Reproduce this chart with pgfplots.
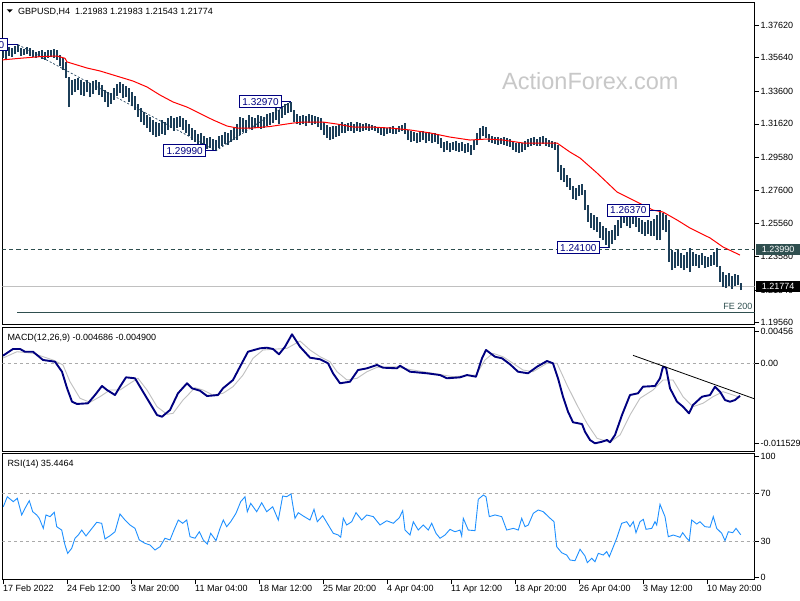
\documentclass[border=0pt]{standalone}
\usepackage{pgfplots}
\pgfplotsset{compat=1.18}
\usepackage{pgfplotstable}
\usepackage{fontspec}
\setmainfont{Liberation Sans}
\definecolor{barcol}{RGB}{28,62,88}
\definecolor{slate}{RGB}{47,79,79}
\definecolor{navyc}{RGB}{0,0,128}
\definecolor{silverc}{RGB}{192,192,192}
\definecolor{dashg}{RGB}{170,170,170}
\definecolor{rsic}{RGB}{30,144,255}
\definecolor{wm}{RGB}{200,200,200}
\newcommand{\mt}{\fontsize{9}{10.8}\selectfont}

\pgfplotstableread{
x h l
3 1.3635 1.3562
6 1.3629 1.3550
9 1.3629 1.3574
12 1.3622 1.3568
15 1.3635 1.3586
18 1.3643 1.3598
21 1.3622 1.3574
24 1.3616 1.3580
27 1.3629 1.3586
30 1.3622 1.3574
33 1.3610 1.3568
36 1.3598 1.3562
39 1.3604 1.3568
42 1.3610 1.3556
45 1.3598 1.3550
48 1.3610 1.3562
51 1.3610 1.3568
54 1.3616 1.3562
57 1.3610 1.3550
60 1.3580 1.3513
63 1.3562 1.3489
66 1.3538 1.3440
69 1.3446 1.3264
72 1.3428 1.3337
75 1.3434 1.3355
78 1.3440 1.3368
81 1.3428 1.3337
84 1.3416 1.3331
87 1.3428 1.3355
90 1.3410 1.3325
93 1.3422 1.3343
96 1.3428 1.3368
99 1.3416 1.3337
102 1.3398 1.3325
105 1.3368 1.3295
108 1.3355 1.3264
111 1.3349 1.3283
114 1.3380 1.3307
117 1.3404 1.3331
120 1.3416 1.3349
123 1.3404 1.3319
126 1.3392 1.3325
129 1.3380 1.3295
132 1.3355 1.3271
135 1.3331 1.3246
138 1.3283 1.3204
141 1.3258 1.3173
144 1.3234 1.3155
147 1.3216 1.3137
150 1.3204 1.3113
153 1.3186 1.3095
156 1.3173 1.3082
159 1.3167 1.3089
162 1.3186 1.3101
165 1.3173 1.3095
168 1.3198 1.3125
171 1.3210 1.3137
174 1.3198 1.3119
177 1.3204 1.3137
180 1.3210 1.3143
183 1.3198 1.3125
186 1.3186 1.3107
189 1.3161 1.3089
192 1.3137 1.3064
195 1.3125 1.3052
198 1.3101 1.3028
201 1.3107 1.3040
204 1.3089 1.3016
207 1.3076 1.3010
210 1.3082 1.3016
213 1.3070 1.3004
216 1.3064 1.2999
219 1.3089 1.3016
222 1.3095 1.3028
225 1.3113 1.3040
228 1.3107 1.3034
231 1.3125 1.3052
234 1.3137 1.3064
237 1.3161 1.3064
240 1.3204 1.3095
243 1.3198 1.3113
246 1.3186 1.3107
249 1.3216 1.3137
252 1.3204 1.3125
255 1.3198 1.3137
258 1.3216 1.3143
261 1.3210 1.3131
264 1.3204 1.3137
267 1.3222 1.3149
270 1.3228 1.3155
273 1.3234 1.3167
276 1.3258 1.3186
279 1.3246 1.3161
282 1.3271 1.3198
285 1.3283 1.3216
288 1.3289 1.3228
291 1.3297 1.3234
294 1.3246 1.3173
297 1.3222 1.3161
300 1.3210 1.3155
303 1.3216 1.3161
306 1.3210 1.3149
309 1.3222 1.3167
312 1.3216 1.3155
315 1.3210 1.3161
318 1.3204 1.3143
321 1.3198 1.3125
324 1.3173 1.3095
327 1.3155 1.3076
330 1.3143 1.3064
333 1.3149 1.3070
336 1.3149 1.3082
339 1.3161 1.3089
342 1.3173 1.3107
345 1.3161 1.3107
348 1.3167 1.3119
351 1.3173 1.3119
354 1.3161 1.3107
357 1.3173 1.3119
360 1.3167 1.3113
363 1.3161 1.3119
366 1.3167 1.3125
369 1.3161 1.3119
372 1.3155 1.3125
375 1.3149 1.3119
378 1.3143 1.3107
381 1.3137 1.3095
384 1.3143 1.3089
387 1.3137 1.3101
390 1.3143 1.3107
393 1.3149 1.3101
396 1.3137 1.3101
399 1.3149 1.3113
402 1.3155 1.3119
405 1.3167 1.3101
408 1.3125 1.3064
411 1.3119 1.3052
414 1.3113 1.3058
417 1.3107 1.3046
420 1.3113 1.3052
423 1.3119 1.3064
426 1.3107 1.3046
429 1.3113 1.3058
432 1.3101 1.3046
435 1.3107 1.3052
438 1.3095 1.3040
441 1.3076 1.3016
444 1.3052 1.2991
447 1.3058 1.3004
450 1.3046 1.2991
453 1.3052 1.3004
456 1.3058 1.2997
459 1.3046 1.2991
462 1.3052 1.2997
465 1.3040 1.2985
468 1.3046 1.2991
471 1.3034 1.2973
474 1.3064 1.3004
477 1.3107 1.3034
480 1.3137 1.3064
483 1.3149 1.3089
486 1.3143 1.3076
489 1.3101 1.3052
492 1.3089 1.3046
495 1.3082 1.3040
498 1.3082 1.3034
501 1.3076 1.3040
504 1.3082 1.3034
507 1.3076 1.3028
510 1.3070 1.3022
513 1.3058 1.3004
516 1.3046 1.2991
519 1.3052 1.2985
522 1.3046 1.2991
525 1.3058 1.3004
528 1.3070 1.3022
531 1.3076 1.3028
534 1.3082 1.3034
537 1.3070 1.3028
540 1.3082 1.3028
543 1.3089 1.3040
546 1.3076 1.3028
549 1.3064 1.3022
552 1.3058 1.3016
555 1.3052 1.3004
558 1.3034 1.2870
561 1.2912 1.2821
564 1.2894 1.2809
567 1.2852 1.2779
570 1.2833 1.2761
573 1.2785 1.2706
576 1.2773 1.2700
579 1.2791 1.2724
582 1.2797 1.2730
585 1.2761 1.2639
588 1.2670 1.2567
591 1.2621 1.2530
594 1.2609 1.2518
597 1.2597 1.2506
600 1.2567 1.2470
603 1.2542 1.2457
606 1.2530 1.2427
609 1.2512 1.2410
612 1.2518 1.2433
615 1.2548 1.2457
618 1.2579 1.2482
621 1.2627 1.2530
624 1.2639 1.2561
627 1.2627 1.2542
630 1.2615 1.2530
633 1.2639 1.2555
636 1.2621 1.2536
639 1.2591 1.2506
642 1.2579 1.2494
645 1.2567 1.2482
648 1.2579 1.2494
651 1.2573 1.2482
654 1.2585 1.2482
657 1.2609 1.2457
660 1.2637 1.2457
663 1.2621 1.2518
666 1.2609 1.2506
669 1.2579 1.2324
672 1.2397 1.2275
675 1.2385 1.2288
678 1.2397 1.2300
681 1.2379 1.2288
684 1.2366 1.2275
687 1.2385 1.2288
690 1.2409 1.2263
693 1.2385 1.2300
696 1.2372 1.2300
699 1.2366 1.2288
702 1.2379 1.2306
705 1.2360 1.2288
708 1.2354 1.2294
711 1.2366 1.2300
714 1.2385 1.2306
717 1.2409 1.2294
720 1.2300 1.2203
723 1.2263 1.2172
726 1.2245 1.2166
729 1.2257 1.2178
732 1.2239 1.2160
735 1.2251 1.2178
738 1.2245 1.2184
741 1.2198 1.2154
}\bars

\pgfplotstableread{
x p
2 1.3550
20 1.3560
40 1.3570
57 1.3574
65 1.3560
67 1.3538
87 1.3501
100 1.3483
113 1.3459
133 1.3422
147 1.3386
160 1.3337
173 1.3295
187 1.3264
203 1.3216
213 1.3186
227 1.3149
237 1.3137
253 1.3137
270 1.3146
293 1.3167
303 1.3173
323 1.3173
337 1.3161
353 1.3143
370 1.3143
390 1.3137
410 1.3125
430 1.3107
450 1.3082
470 1.3064
487 1.3070
503 1.3064
523 1.3046
540 1.3046
557 1.3046
570 1.2991
580 1.2955
597 1.2864
617 1.2749
637 1.2688
653 1.2639
663 1.2627
677 1.2579
690 1.2530
710 1.2470
723 1.2415
740 1.2366
}\ma

\pgfplotstableread{
x m
3 0.00110
13 0.00206
20 0.00206
25 0.00167
33 0.00167
43 0.00048
55 0.00023
62 -0.00121
67 -0.00356
72 -0.00553
77 -0.00586
88 -0.00576
95 -0.00457
102 -0.00327
107 -0.00385
115 -0.00457
120 -0.00337
126 -0.00202
135 -0.00216
142 -0.00385
148 -0.00529
157 -0.00745
162 -0.00770
170 -0.00673
178 -0.00432
187 -0.00288
192 -0.00360
200 -0.00395
207 -0.00471
218 -0.00457
223 -0.00360
233 -0.00241
240 -0.00049
248 0.00167
260 0.00216
267 0.00225
273 0.00206
279 0.00130
285 0.00239
292 0.00418
300 0.00239
310 0.00081
320 0.00058
328 0.00000
333 -0.00144
340 -0.00288
350 -0.00265
358 -0.00097
367 -0.00072
377 -0.00024
383 -0.00063
397 -0.00072
400 -0.00035
410 -0.00121
427 -0.00144
440 -0.00169
447 -0.00216
460 -0.00202
467 -0.00169
476 -0.00193
482 0.00072
486 0.00192
495 0.00095
502 0.00072
510 -0.00014
518 -0.00121
528 -0.00144
537 -0.00049
547 0.00033
553 0.00000
558 -0.00216
563 -0.00481
568 -0.00697
573 -0.00850
582 -0.00875
585 -0.00986
590 -0.01105
595 -0.01153
602 -0.01130
607 -0.01105
610 -0.01138
615 -0.01033
622 -0.00745
630 -0.00457
638 -0.00432
643 -0.00337
655 -0.00327
660 -0.00216
663 -0.00049
666 -0.00063
670 -0.00360
677 -0.00553
683 -0.00625
689 -0.00721
693 -0.00601
702 -0.00481
710 -0.00457
715 -0.00337
720 -0.00409
725 -0.00529
730 -0.00553
735 -0.00529
740 -0.00469
}\macd

\pgfplotstableread{
x s
3 0.00076
17 0.00167
33 0.00144
53 0.00048
63 -0.00024
70 -0.00265
80 -0.00504
90 -0.00562
100 -0.00481
110 -0.00385
120 -0.00385
130 -0.00288
138 -0.00216
147 -0.00385
157 -0.00625
167 -0.00735
173 -0.00721
183 -0.00529
195 -0.00352
203 -0.00385
213 -0.00457
223 -0.00432
233 -0.00337
243 -0.00169
253 0.00072
263 0.00192
277 0.00206
287 0.00216
300 0.00321
310 0.00192
320 0.00095
330 0.00023
337 -0.00121
347 -0.00241
357 -0.00216
367 -0.00121
377 -0.00058
397 -0.00049
400 -0.00063
413 -0.00097
433 -0.00144
453 -0.00193
476 -0.00169
485 0.00048
493 0.00144
503 0.00095
513 0.00000
523 -0.00097
533 -0.00121
547 0.00000
557 0.00000
567 -0.00313
577 -0.00601
587 -0.00865
597 -0.01081
610 -0.01138
620 -0.01033
630 -0.00745
640 -0.00504
653 -0.00385
663 -0.00241
673 -0.00241
683 -0.00481
693 -0.00625
703 -0.00576
713 -0.00481
723 -0.00409
733 -0.00457
740 -0.00490
}\signal

\pgfplotstableread{
x r
3.3 58.6
7.3 66.9
13.3 62.8
17.3 65.6
21.7 51.8
25 57.3
29.3 63.6
32.7 54.5
36.7 51.8
39.3 49.0
43.3 40.7
46 51.8
50 50.4
54.3 54.0
56.7 42.1
61.7 39.3
65 26.9
67.7 20.0
71.7 24.2
75 32.5
78.3 35.2
81.7 39.3
86 34.4
89.3 37.9
93.3 42.1
96.7 45.7
101.7 44.9
105 31.9
110 34.6
115 37.9
120 52.6
125 47.6
130 43.5
135 40.7
139.3 31.1
145 28.3
150 26.9
155 22.8
160 25.5
165 32.5
170 31.1
174 39.3
178.3 47.6
182.7 44.9
186.7 47.6
190 33.8
195 32.5
199.3 37.9
203.3 31.1
207.3 27.7
210.7 36.6
216 30.5
220 40.7
223.3 47.6
226.7 42.1
230.7 46.2
236 53.2
240.7 62.8
245 66.9
247.3 54.5
250.7 61.4
256.7 54.5
261.7 61.9
266.7 54.5
272.7 58.6
278.3 47.6
282.7 67.5
286.7 66.9
291 69.2
295 49.0
298.3 53.7
303.3 50.9
310 47.6
314 56.5
317.3 46.2
322.7 51.2
328.3 43.5
333.3 36.6
338.3 35.2
340.7 33.3
343.3 49.0
346.7 43.5
351.7 46.2
356 53.7
361.7 47.6
366.7 51.8
373.3 50.4
380 43.5
386.7 47.0
393.3 44.9
399.3 49.5
402.7 55.3
405 39.3
410 35.2
413.3 46.2
418.3 39.3
423.3 43.5
428.3 39.3
431.7 44.9
436 36.6
440 32.5
445 35.2
450 39.9
455 37.9
460 39.3
461.7 34.4
463.3 49.0
468.3 39.3
475 38.8
478.3 64.8
483.3 68.3
486 66.9
489.3 50.4
495 51.8
501.7 50.4
506.7 39.3
513.3 40.7
518.3 39.3
521.7 49.0
525 42.1
528.3 43.5
533.3 53.2
538.3 55.9
543.3 54.5
548.3 50.4
554 46.2
556.7 25.5
561.7 20.5
566.7 18.6
570 14.5
575 13.9
580 23.4
585 17.8
587.3 12.3
591.7 15.9
595 13.1
598.3 20.0
603.3 18.6
606.7 21.4
609.3 17.2
612.7 24.2
616.7 32.5
621.7 44.9
626.7 46.2
630 42.1
633.3 46.2
636 37.1
640 46.2
643.3 48.2
646 39.9
651.7 40.7
655 46.2
656.7 43.5
660 60.6
665 50.4
668.3 33.8
673.3 35.2
680 33.3
682.7 37.1
686.7 32.5
689.3 30.5
691.7 47.6
696.7 44.3
700 46.2
705 42.1
710 41.6
713.3 50.4
716.7 40.7
721.7 36.6
725 30.5
728.3 37.9
732.7 37.1
736 40.7
740.7 35.4
}\rsi

\pgfplotsset{
  mtpanel/.style={
    scale only axis, width=752pt, xmin=2.5, xmax=754.5,
    anchor=north west,
    axis line style={black, line width=0.9pt},
    xtick=\empty,
    ytick pos=right, yticklabel pos=right,
    tick align=outside, major tick length=4.5pt,
    tick style={black, line width=0.7pt},
    yticklabel style={font=\mt, anchor=west, inner sep=0pt, xshift=1.5pt},
    scaled y ticks=false, scaled x ticks=false,
    clip mode=individual,
  },
}
\tikzset{
  pricebox/.style={draw=navyc, line width=0.8pt, fill=white, text=navyc,
    font=\fontsize{10}{12}\selectfont, inner sep=0pt,
    minimum width=42pt, minimum height=12pt},
}

\begin{document}
\begin{tikzpicture}
\useasboundingbox (0,0) rectangle (800pt,-600pt);
\fill[white] (0,0) rectangle (800pt,-600pt);

% watermark
\node[anchor=base west, inner sep=0pt, text=wm, font=\fontsize{23.5}{26}\selectfont] at (502pt,-89pt) {ActionForex.com};

% ---------------- main price panel ----------------
\begin{axis}[mtpanel, at={(2.5pt,-2.5pt)}, height=321.5pt,
  ymin=1.19477, ymax=1.38985,
  ytick={1.3762,1.3564,1.3360,1.3162,1.2958,1.2760,1.2556,1.2358,1.2154,1.1956},
  yticklabels={1.37620,1.35640,1.33600,1.31620,1.29580,1.27600,1.25560,1.23580,1.21540,1.19560}]
\addplot[slate, line width=0.8pt, dash pattern=on 4pt off 3pt] coordinates {(2.5,1.2399) (754.5,1.2399)};
\addplot[silverc, line width=1pt] coordinates {(2.5,1.21774) (754.5,1.21774)};
\addplot[slate, line width=1pt] coordinates {(17,1.2019) (754.5,1.2019)};
\addplot[barcol, line width=0.7pt, dash pattern=on 2pt off 2pt] coordinates {(18,1.3643) (216,1.2999) (291,1.3297)};
\addplot[draw=none, mark=none,
  error bars/.cd, y dir=plus, y explicit, error mark=none,
  error bar style={draw=barcol, solid, line width=1.05pt, line cap=butt}]
  table[x=x, y=l, y error expr=\thisrow{h}-\thisrow{l}] {\bars};
\addplot[red, line width=1pt] table[x=x, y=p] {\ma};
% swing-label connectors
\addplot[navyc, line width=0.8pt] coordinates {(-10,1.3643) (18,1.3643)};
\addplot[navyc, line width=0.8pt] coordinates {(206,1.2999) (216,1.2999)};
\addplot[navyc, line width=0.8pt] coordinates {(281.7,1.3297) (291,1.3297)};
\addplot[navyc, line width=0.8pt] coordinates {(599.3,1.2410) (609,1.2410)};
\addplot[navyc, line width=0.8pt] coordinates {(649.3,1.2637) (660,1.2637)};
\node[pricebox] at (axis cs:-14,1.3643) {1.36430};
\node[pricebox] at (axis cs:184.7,1.2999) {1.29990};
\node[pricebox] at (axis cs:260.5,1.3297) {1.32970};
\node[pricebox] at (axis cs:628.3,1.2637) {1.26370};
\node[pricebox] at (axis cs:578.3,1.2410) {1.24100};
\node[anchor=base east, inner sep=0pt, text=slate, font=\mt, yshift=2.5pt] at (axis cs:752.5,1.2019) {FE 200};
\coordinate (labA) at (axis cs:754.5,1.2399);
\coordinate (labB) at (axis cs:754.5,1.21774);
\end{axis}
\node[anchor=west, fill=slate, text=white, inner sep=0pt, minimum width=44pt, minimum height=11pt, font=\mt] at ([xshift=1.5pt]labA) {1.23990};
\node[anchor=west, fill=black, text=white, inner sep=0pt, minimum width=44pt, minimum height=11pt, font=\mt] at ([xshift=1.5pt]labB) {1.21774};

% header texts
\fill[black] (6.7pt,-9.3pt) -- (12.7pt,-9.3pt) -- (9.7pt,-12.5pt) -- cycle;
\node[anchor=base west, inner sep=0pt, font=\mt] at (18pt,-14pt) {GBPUSD,H4\ \ 1.21983 1.21983 1.21543 1.21774};

% ---------------- MACD panel ----------------
\begin{axis}[mtpanel, at={(2.5pt,-327pt)}, height=124.5pt,
  ymin=-0.01271, ymax=0.005231,
  ytick={0.00456,0,-0.011529},
  yticklabels={0.00456,0.00,-0.011529}]
\addplot[dashg, line width=0.7pt, dash pattern=on 3pt off 3pt] coordinates {(2.5,0) (754.5,0)};
\addplot[silverc, line width=0.9pt] table[x=x, y=s] {\signal};
\addplot[navyc, line width=1.9pt, line join=round] table[x=x, y=m] {\macd};
\addplot[black, line width=0.8pt] coordinates {(633,0.00115) (754.5,-0.00512)};
\end{axis}
\node[anchor=base west, inner sep=0pt, font=\mt] at (7.3pt,-340.7pt) {MACD(12,26,9) -0.004686 -0.004900};

% ---------------- RSI panel ----------------
\begin{axis}[mtpanel, at={(2.5pt,-453.5pt)}, height=126pt,
  ymin=-1.66, ymax=102.69,
  ytick={0,30,70,100},
  yticklabels={0,30,70,100},
  xtick={3,67,131,195,259,323,387,451,515,579,643,707},
  xticklabels={17 Feb 2022,24 Feb 12:00,3 Mar 20:00,11 Mar 04:00,18 Mar 12:00,25 Mar 20:00,4 Apr 04:00,11 Apr 12:00,18 Apr 20:00,26 Apr 04:00,3 May 12:00,10 May 20:00},
  xtick pos=bottom,
  xticklabel style={font=\mt, anchor=north west, inner sep=0pt, yshift=-1pt}]
\addplot[dashg, line width=0.7pt, dash pattern=on 3pt off 3pt] coordinates {(2.5,70) (754.5,70)};
\addplot[dashg, line width=0.7pt, dash pattern=on 3pt off 3pt] coordinates {(2.5,30) (754.5,30)};
\addplot[rsic, line width=0.9pt] table[x=x, y=r] {\rsi};
\end{axis}
\node[anchor=base west, inner sep=0pt, font=\mt] at (7.3pt,-466.7pt) {RSI(14) 35.4464};
\end{tikzpicture}
\end{document}
